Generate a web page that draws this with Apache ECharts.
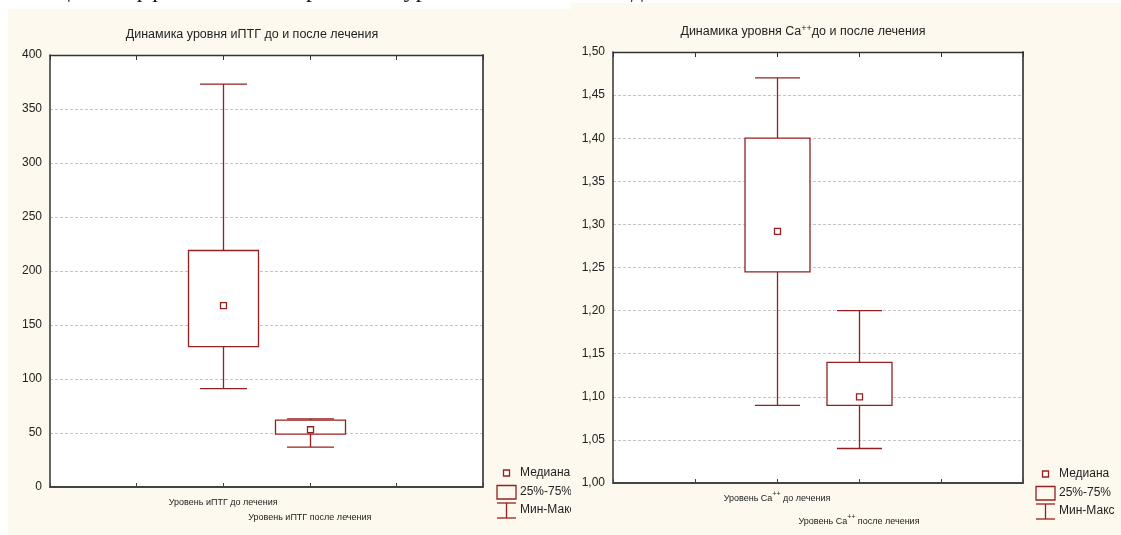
<!DOCTYPE html>
<html><head><meta charset="utf-8">
<script src="https://cdn.jsdelivr.net/npm/echarts@6/dist/echarts.min.js"></script>
<style>html,body{margin:0;padding:0;background:#fff}#c{width:1121px;height:535px}</style>
</head><body><div id="c"></div>
<script>
// ---- data ----
const pthTitle = 'Динамика уровня иПТГ до и после лечения';
const caTitleParts = ['Динамика уровня Ca', '++', 'до и после лечения'];
const pthCategories = ['Уровень иПТГ до лечения', 'Уровень иПТГ после лечения'];
const caCategoryParts = [['Уровень Ca', '++', ' до лечения'], ['Уровень Ca', '++', ' после лечения']];
const pthMin = [91, 37];
const pthQ1 = [130, 49];
const pthMedian = [168, 53];
const pthQ3 = [219, 62];
const pthMax = [373, 63];
const caMin = [1.09, 1.04];
const caQ1 = [1.245, 1.09];
const caMedian = [1.292, 1.10];
const caQ3 = [1.40, 1.14];
const caMax = [1.47, 1.20];
const pthTicks = [0, 50, 100, 150, 200, 250, 300, 350, 400];
const caTicks = [1.00, 1.05, 1.10, 1.15, 1.20, 1.25, 1.30, 1.35, 1.40, 1.45, 1.50];
const xSlots = [0, 1, 2, 3, 4, 5];
const boxSlots = [2, 3];
const legendLabels = ['Медиана', '25%-75%', 'Мин-Макс'];
const pageHeading = 'Оценка эффективности терапии по уровню иПТГ и Ca++ до и после лечения';

// ---- styles ----
const RED = '#962020';
const CREAM = '#fdf9ef';
const FONT = '"Liberation Sans", Arial, sans-serif';
const NARROW = '"Liberation Sans Narrow", "Arial Narrow", "Liberation Sans", sans-serif';

function buildData(mn, q1, md, q3, mx) {
  return boxSlots.map((s, i) => [s, mn[i], q1[i], md[i], q3[i], mx[i]]);
}

function makeRender(boxW, capW) {
  return function (params, api) {
    const x = api.value(0);
    const pMin = api.coord([x, api.value(1)]);
    const pQ1 = api.coord([x, api.value(2)]);
    const pMed = api.coord([x, api.value(3)]);
    const pQ3 = api.coord([x, api.value(4)]);
    const pMax = api.coord([x, api.value(5)]);
    const cx = Math.round(pMed[0]) + 0.5;
    const ls = { stroke: RED, lineWidth: 1.3, fill: null };
    return {
      type: 'group',
      children: [
        { type: 'line', shape: { x1: cx, y1: pQ3[1], x2: cx, y2: pMax[1] }, style: ls },
        { type: 'line', shape: { x1: cx, y1: pQ1[1], x2: cx, y2: pMin[1] }, style: ls },
        { type: 'line', shape: { x1: cx - capW / 2, y1: pMax[1], x2: cx + capW / 2, y2: pMax[1] }, style: ls },
        { type: 'line', shape: { x1: cx - capW / 2, y1: pMin[1], x2: cx + capW / 2, y2: pMin[1] }, style: ls },
        { type: 'rect', shape: { x: cx - boxW / 2, y: pQ3[1], width: boxW, height: pQ1[1] - pQ3[1] }, style: { stroke: RED, lineWidth: 1.3, fill: '#fff' } },
        { type: 'rect', shape: { x: cx - 3, y: pMed[1] - 3, width: 6, height: 6 }, style: { stroke: RED, lineWidth: 1.3, fill: '#fff' } }
      ]
    };
  };
}

function xAxes(gi, labelFmt, rich) {
  return [
    {
      gridIndex: gi, type: 'value', min: xSlots[0], max: xSlots[xSlots.length - 1], interval: 1, position: 'bottom',
      axisLine: { show: true, onZero: false, lineStyle: { color: '#444', width: 1.8 } },
      axisTick: { show: true, inside: true, length: 4, lineStyle: { color: '#444' } },
      splitLine: { show: false },
      axisLabel: { show: true, formatter: labelFmt, fontFamily: NARROW, fontSize: 9, color: '#222', margin: 8, lineHeight: 15, rich: rich, showMinLabel: true, showMaxLabel: true }
    },
    {
      gridIndex: gi, type: 'value', min: xSlots[0], max: xSlots[xSlots.length - 1], interval: 1, position: 'top',
      axisLine: { show: true, onZero: false, lineStyle: { color: '#333', width: 1.3 } },
      axisTick: { show: true, inside: true, length: 5, lineStyle: { color: '#333' } },
      splitLine: { show: false }, axisLabel: { show: false }
    }
  ];
}

function yAxes(gi, ticks, fmt) {
  return [
    {
      gridIndex: gi, type: 'value', min: ticks[0], max: ticks[ticks.length - 1], interval: ticks[1] - ticks[0], position: 'left',
      axisLine: { show: true, onZero: false, lineStyle: { color: '#333', width: 1.5 } },
      axisTick: { show: false },
      splitLine: { show: true, lineStyle: { color: '#c4c4c4', type: [3, 2], width: 1 } },
      axisLabel: { formatter: fmt, fontFamily: FONT, fontSize: 12, color: '#222', margin: 8 }
    },
    {
      gridIndex: gi, type: 'value', min: ticks[0], max: ticks[ticks.length - 1], interval: ticks[1] - ticks[0], position: 'right',
      axisLine: { show: true, onZero: false, lineStyle: { color: '#444', width: 1.8 } },
      axisTick: { show: false }, splitLine: { show: false }, axisLabel: { show: false }
    }
  ];
}

const supRich = {
  a: { fontFamily: NARROW, fontSize: 9, color: '#222', lineHeight: 15 },
  s: { fontFamily: NARROW, fontSize: 7, color: '#222', verticalAlign: 'top' },
  g: { fontSize: 9, lineHeight: 23 }
};

function pthLabel(v) {
  const i = boxSlots.indexOf(v);
  if (i < 0) return '';
  return (i === 1 ? '\n' : '') + pthCategories[i];
}
function caLabel(v) {
  const i = boxSlots.indexOf(v);
  if (i < 0) return '';
  const p = caCategoryParts[i];
  return (i === 1 ? '{g| }\n' : '') + '{a|' + p[0] + '}{s|' + p[1] + '}{a|' + p[2] + '}';
}

function legend(x0, y0, z) {
  const cx = x0 + 9.5;
  const st = { stroke: RED, lineWidth: 1.3, fill: null };
  const tx = x0 + 23;
  return [
    { type: 'rect', z: z, shape: { x: cx - 3, y: y0 - 3, width: 6, height: 6 }, style: { stroke: RED, lineWidth: 1.3, fill: '#fff' } },
    { type: 'rect', z: z, shape: { x: x0, y: y0 + 12.5, width: 19, height: 13.5 }, style: st },
    { type: 'line', z: z, shape: { x1: x0, y1: y0 + 30, x2: x0 + 19, y2: y0 + 30 }, style: st },
    { type: 'line', z: z, shape: { x1: cx, y1: y0 + 30, x2: cx, y2: y0 + 45 }, style: st },
    { type: 'line', z: z, shape: { x1: x0, y1: y0 + 45, x2: x0 + 19, y2: y0 + 45 }, style: st },
    { type: 'text', z: z, style: { text: legendLabels[0], x: tx, y: y0, font: '12px ' + FONT, fill: '#222', verticalAlign: 'middle' } },
    { type: 'text', z: z, style: { text: legendLabels[1], x: tx, y: y0 + 19, font: '12px ' + FONT, fill: '#222', verticalAlign: 'middle' } },
    { type: 'text', z: z, style: { text: legendLabels[2], x: tx, y: y0 + 37, font: '12px ' + FONT, fill: '#222', verticalAlign: 'middle' } }
  ];
}

const chart = echarts.init(document.getElementById('c'), null, { renderer: 'canvas' });
const option = {
  backgroundColor: '#fff',
  animation: false,
  graphic: [
    { type: 'text', z: -40, style: { text: pageHeading, x: 40, y: -9, font: '24px "Liberation Serif", serif', fill: '#111', verticalAlign: 'middle' } },
    { type: 'rect', z: -30, shape: { x: 8, y: 9, width: 563, height: 526 }, style: { fill: CREAM } },
  ].concat(legend(497, 473, -20)).concat([
    { type: 'rect', z: -10, shape: { x: 571, y: 3, width: 550, height: 532 }, style: { fill: CREAM } },
    { type: 'text', z: 5, style: { text: pthTitle, x: 252, y: 35, font: '12.5px ' + FONT, fill: '#222', align: 'center', verticalAlign: 'middle' } },
    { type: 'text', z: 5, style: { text: '{a|' + caTitleParts[0] + '}{s|' + caTitleParts[1] + '}{a|' + caTitleParts[2] + '}', x: 803, y: 32, align: 'center', verticalAlign: 'middle',
        rich: { a: { fontFamily: FONT, fontSize: 12.5, fill: '#222', lineHeight: 16 }, s: { fontFamily: FONT, fontSize: 9, fill: '#222', verticalAlign: 'top' } } } }
  ]).concat(legend(1036, 474, -5)),
  grid: [
    { left: 50, top: 55, width: 433, height: 432, show: true, backgroundColor: '#fff', borderWidth: 0 },
    { left: 613, top: 52, width: 410, height: 431, show: true, backgroundColor: '#fff', borderWidth: 0 }
  ],
  xAxis: xAxes(0, pthLabel, null).concat(xAxes(1, caLabel, supRich)),
  yAxis: yAxes(0, pthTicks, v => String(v)).concat(yAxes(1, caTicks, v => v.toFixed(2).replace('.', ','))),
  series: [
    { type: 'custom', xAxisIndex: 0, yAxisIndex: 0, renderItem: makeRender(70, 47), data: buildData(pthMin, pthQ1, pthMedian, pthQ3, pthMax), z: 5 },
    { type: 'custom', xAxisIndex: 2, yAxisIndex: 2, renderItem: makeRender(65, 45), data: buildData(caMin, caQ1, caMedian, caQ3, caMax), z: 5 }
  ]
};
chart.setOption(option);
</script>
</body></html>
